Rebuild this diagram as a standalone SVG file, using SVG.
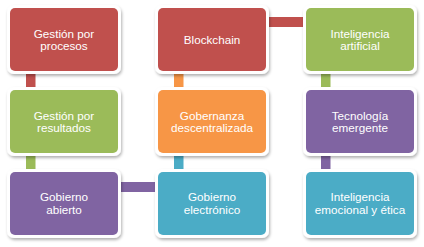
<svg xmlns="http://www.w3.org/2000/svg" width="424" height="247" viewBox="0 0 424 247">
<defs>
<filter id="sh" x="-10%" y="-10%" width="130%" height="130%">
<feDropShadow dx="1" dy="2" stdDeviation="1.8" flood-color="#000" flood-opacity="0.3"/>
</filter>
</defs>
<style>
.frame{fill:#fff;filter:url(#sh)}
.t{font-family:"Liberation Sans",Arial,sans-serif;font-size:11.7px;fill:#fff;text-anchor:middle}
.red{fill:#C0504D}.green{fill:#9BBB59}.purple{fill:#8064A2}.aqua{fill:#4BACC6}.orange{fill:#F79646}
</style>
<rect width="424" height="247" fill="#fff"/>
<g id="connectors">
<rect class="red" x="26" y="68" width="9.5" height="26"/>
<rect class="green" x="26" y="150" width="9.5" height="26"/>
<rect class="purple" x="116" y="182" width="44" height="10"/>
<rect class="aqua" x="174" y="150" width="9.5" height="26"/>
<rect class="orange" x="174" y="68" width="9.5" height="26"/>
<rect class="red" x="264" y="17" width="44" height="10"/>
<rect class="green" x="321" y="68" width="9.5" height="26"/>
<rect class="purple" x="321" y="150" width="9.5" height="26"/>
</g>
<g id="n1"><rect class="frame" x="7" y="5" width="114" height="69" rx="7"/><rect class="red" x="10" y="8" width="108" height="63" rx="5"/><text class="t" x="64" y="37.5">Gestión por</text><text class="t" x="64" y="50">procesos</text></g>
<g id="n2"><rect class="frame" x="7" y="87" width="114" height="69" rx="7"/><rect class="green" x="10" y="90" width="108" height="63" rx="5"/><text class="t" x="64" y="119.5">Gestión por</text><text class="t" x="64" y="132">resultados</text></g>
<g id="n3"><rect class="frame" x="7" y="169" width="114" height="69" rx="7"/><rect class="purple" x="10" y="172" width="108" height="63" rx="5"/><text class="t" x="64" y="201">Gobierno</text><text class="t" x="64" y="213.5">abierto</text></g>
<g id="n4"><rect class="frame" x="155" y="169" width="114" height="69" rx="7"/><rect class="aqua" x="158" y="172" width="108" height="63" rx="5"/><text class="t" x="212" y="201">Gobierno</text><text class="t" x="212" y="213.5">electrónico</text></g>
<g id="n5"><rect class="frame" x="155" y="87" width="114" height="69" rx="7"/><rect class="orange" x="158" y="90" width="108" height="63" rx="5"/><text class="t" x="212" y="119.5">Gobernanza</text><text class="t" x="212" y="132">descentralizada</text></g>
<g id="n6"><rect class="frame" x="155" y="5" width="114" height="69" rx="7"/><rect class="red" x="158" y="8" width="108" height="63" rx="5"/><text class="t" x="212" y="44">Blockchain</text></g>
<g id="n7"><rect class="frame" x="303" y="5" width="114" height="69" rx="7"/><rect class="green" x="306" y="8" width="108" height="63" rx="5"/><text class="t" x="360" y="37.5">Inteligencia</text><text class="t" x="360" y="50">artificial</text></g>
<g id="n8"><rect class="frame" x="303" y="87" width="114" height="69" rx="7"/><rect class="purple" x="306" y="90" width="108" height="63" rx="5"/><text class="t" x="360" y="119.5">Tecnología</text><text class="t" x="360" y="132">emergente</text></g>
<g id="n9"><rect class="frame" x="303" y="169" width="114" height="69" rx="7"/><rect class="aqua" x="306" y="172" width="108" height="63" rx="5"/><text class="t" x="360" y="201">Inteligencia</text><text class="t" x="360" y="213.5">emocional y ética</text></g>
</svg>
